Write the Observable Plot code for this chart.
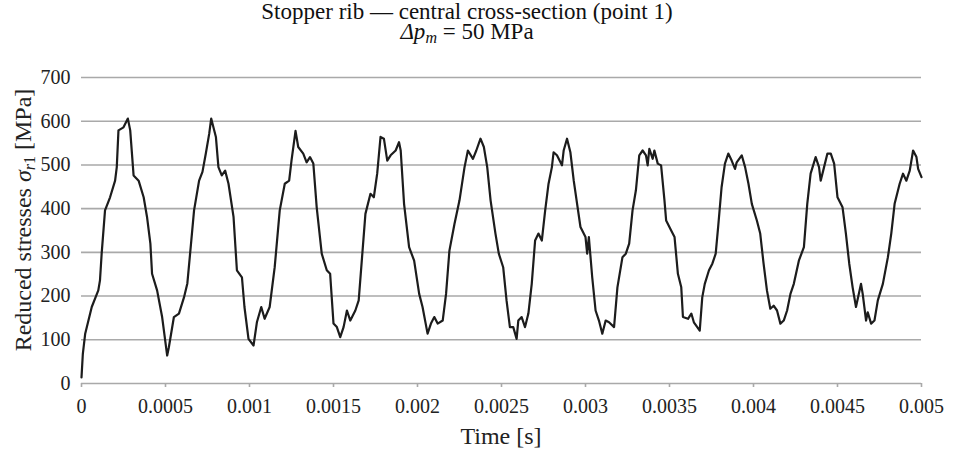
<!DOCTYPE html>
<html><head><meta charset="utf-8">
<script src="https://cdn.jsdelivr.net/npm/d3@7"></script>
<script src="https://cdn.jsdelivr.net/npm/@observablehq/plot@0.6"></script>
<style>
body{margin:0;background:#fff;font-family:"Liberation Serif",serif;}
#title{position:relative;height:62px;width:953px;}
.t{position:absolute;left:0;top:2px;width:934px;text-align:center;font-size:23px;color:#111;line-height:20px;white-space:nowrap;}
.t .sb{font-size:16px;position:relative;top:4px;}
</style></head><body>
<div id="title">
<div class="t">Stopper rib — central cross-section (point 1)<br><i>Δp<span class="sb">m</span></i> = 50 MPa</div>
</div>
<div id="chart"></div>
<script>
const time = [0,0.000008,0.000022,0.000061,0.0001,0.00011,0.00012,0.00014,0.00017,0.0002,0.00021,0.00022,0.00025,0.000276,0.00029,0.00031,0.00034,0.00037,0.00039,0.00041,0.00042,0.00045,0.00048,0.00051,0.00052,0.00055,0.00058,0.00061,0.00063,0.00065,0.00067,0.0007,0.00072,0.00074,0.00076,0.000772,0.0008,0.000815,0.000835,0.000855,0.000875,0.000905,0.000925,0.000955,0.00097,0.000994,0.001024,0.001044,0.00107,0.00109,0.00112,0.00115,0.00118,0.00121,0.001236,0.00125,0.001274,0.00129,0.00132,0.00134,0.00136,0.00138,0.0014,0.00143,0.00146,0.00148,0.0015,0.00152,0.00154,0.00156,0.00158,0.0016,0.00163,0.00165,0.00167,0.00169,0.00172,0.00174,0.00176,0.00178,0.0018,0.00182,0.00184,0.00187,0.00189,0.0019,0.00192,0.00195,0.00198,0.00201,0.00203,0.00206,0.00208,0.0021,0.00212,0.00215,0.00217,0.00219,0.00222,0.00225,0.00228,0.0023,0.00233,0.00235,0.002375,0.002395,0.002415,0.002435,0.002464,0.002484,0.00251,0.00253,0.00255,0.00257,0.00259,0.0026,0.00262,0.00264,0.00266,0.00268,0.0027,0.00272,0.00274,0.00276,0.00278,0.0028,0.00281,0.00283,0.00286,0.00287,0.00289,0.00291,0.00293,0.00295,0.00297,0.003,0.00301,0.00302,0.00304,0.00306,0.00308,0.0031,0.00312,0.00314,0.00317,0.00319,0.00322,0.00324,0.00326,0.00328,0.0033,0.00332,0.00334,0.00336,0.00337,0.00338,0.0034,0.00341,0.00343,0.00345,0.00347,0.00348,0.00351,0.00353,0.00355,0.00357,0.00358,0.00361,0.00363,0.003645,0.00368,0.003695,0.00371,0.003735,0.003755,0.003775,0.00379,0.00381,0.00383,0.00385,0.00387,0.00389,0.0039,0.00393,0.00395,0.00397,0.00399,0.00402,0.00404,0.00406,0.00408,0.0041,0.00412,0.00414,0.00416,0.00418,0.0042,0.00422,0.00424,0.00427,0.0043,0.00432,0.00434,0.00437,0.00439,0.0044,0.00442,0.00444,0.00446,0.00448,0.0045,0.00453,0.00455,0.00457,0.00459,0.00461,0.00464,0.00465,0.00467,0.00468,0.0047,0.00472,0.00474,0.00477,0.0048,0.00482,0.00484,0.00487,0.00489,0.00491,0.00493,0.00495,0.00497,0.00498,0.005];
const stress = [14,68,114,175,213,236,297,396,426,464,495,579,586,606,579,476,464,426,381,320,251,213,152,64,83,152,160,197,229,312,396,464,484,526,571,606,564,495,476,487,457,381,259,243,175,102,87,140,175,148,175,266,396,457,464,510,578,541,526,506,518,503,403,297,259,251,137,129,106,129,167,144,167,190,289,388,434,426,480,564,560,510,522,533,552,533,411,312,281,205,175,114,137,152,137,144,205,304,365,419,495,533,514,533,560,541,495,419,343,297,266,190,129,129,102,144,152,129,160,228,327,343,327,396,457,495,529,522,499,533,560,529,464,411,358,335,297,335,243,167,144,114,144,140,129,220,289,297,320,396,442,522,533,522,499,537,514,533,503,499,419,373,350,335,251,220,152,148,160,140,121,197,228,259,274,297,360,449,503,526,510,491,506,522,495,457,411,373,343,274,213,171,178,167,137,144,167,205,228,281,312,411,480,518,495,464,495,526,526,503,426,403,343,274,220,175,228,205,144,163,137,144,190,228,289,343,411,457,480,464,487,533,518,491,472];
const yTicks = [0,100,200,300,400,500,600,700];
const xTicks = [0,0.0005,0.001,0.0015,0.002,0.0025,0.003,0.0035,0.004,0.0045,0.005];
const xTickLabels = ["0","0.0005","0.001","0.0015","0.002","0.0025","0.003","0.0035","0.004","0.0045","0.005"];

const data = time.map((t,i)=>({t, s: stress[i]}));
const gridColor = "#a9a9a9";

const svg = Plot.plot({
  width: 953, height: 392,
  marginTop: 15, marginBottom: 71, marginLeft: 81, marginRight: 32,
  x: {domain: [0, 0.005]},
  y: {domain: [0, 700]},
  style: {fontFamily: "Liberation Serif", fontSize: "20px", color: "#222", background: "white"},
  marks: [
    Plot.gridY(yTicks.filter(v => v > 0), {stroke: gridColor, strokeOpacity: 1, strokeWidth: 1.6}),
    Plot.ruleY([0], {stroke: gridColor, strokeWidth: 1.6}),
    Plot.axisX(xTicks, {tickFormat: d => xTickLabels[xTicks.indexOf(d)], tickSize: 4, tickPadding: 11, stroke: gridColor, strokeWidth: 1.6, fill: "#222", label: null}),
    Plot.axisY(yTicks, {tickSize: 0, tickPadding: 11, fill: "#222", label: null}),
    Plot.line(data, {x: "t", y: "s", stroke: "#1c1c1c", strokeWidth: 2.2, strokeLinejoin: "round"})
  ]
});
document.getElementById("chart").appendChild(svg);

const s = d3.select(svg);
const yl = s.append("text")
  .attr("transform", "translate(31,158) rotate(-90)")
  .attr("text-anchor", "middle")
  .attr("font-family", "Liberation Serif")
  .attr("font-size", 24)
  .attr("fill", "#222");
yl.append("tspan").text("Reduced stresses ");
yl.append("tspan").attr("font-style", "italic").text("σ");
yl.append("tspan").attr("font-style", "italic").attr("font-size", 16).attr("dy", 4).text("r");
yl.append("tspan").attr("font-size", 16).text("1");
yl.append("tspan").attr("dy", -4).text(" [MPa]");

s.append("text")
  .attr("x", 501).attr("y", 382)
  .attr("text-anchor", "middle")
  .attr("font-family", "Liberation Serif")
  .attr("font-size", 24)
  .attr("fill", "#222")
  .text("Time [s]");
</script>
</body></html>
